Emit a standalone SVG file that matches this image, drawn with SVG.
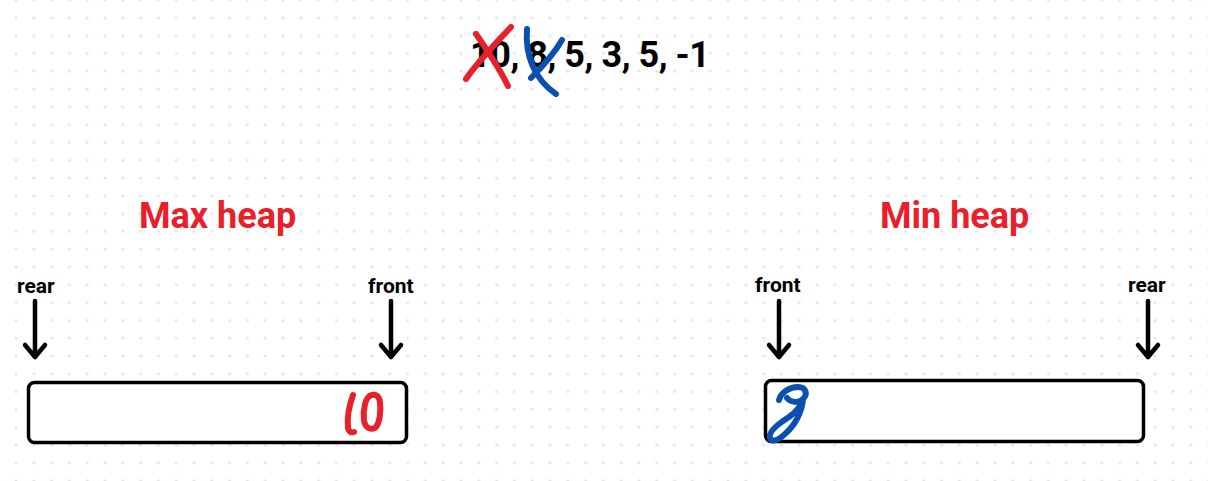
<svg xmlns="http://www.w3.org/2000/svg" width="1208" height="481" viewBox="0 0 1208 481">
<style>
.t{font-family:Roboto,"Liberation Sans",sans-serif;font-weight:bold}
.big{font-size:36px;fill:#000}
.title{font-size:36px;fill:#e8202a}
.lab{font-size:21px;fill:#000}
.box{fill:#fff;stroke:#000;stroke-width:3.5}
.arr{fill:none;stroke:#000;stroke-width:4.5;stroke-linecap:round;stroke-linejoin:round}
.red{fill:none;stroke:#e8202a;stroke-width:6;stroke-linecap:round;stroke-linejoin:round}
.blue{fill:none;stroke:#0b4fb0;stroke-width:6;stroke-linecap:round;stroke-linejoin:round}
</style>
<defs>
<pattern id="dots" patternUnits="userSpaceOnUse" x="7.1" y="-8.9" width="17.8" height="17.8">
<circle cx="8.9" cy="8.9" r="1.6" fill="#e1e4ea"/>
</pattern>
</defs>
<rect width="1208" height="481" fill="#fff"/>
<rect width="1208" height="481" fill="url(#dots)"/>
<g id="sequence">
<text class="t big" x="470" y="67" textLength="240">10, 8, 5, 3, 5, -1</text>
<path class="red" d="M476 34 C487 50 499 67 508 86"/>
<path class="red" d="M511 27 C497 42 479 60 466 79"/>
<path class="blue" d="M527 29 C525 55 534 79 556 94"/>
<path class="blue" d="M562 40 C554 54 543 66 531 78"/>
</g>
<g id="maxheap">
<text class="t title" x="139" y="228">Max heap</text>
<text class="t lab" x="17" y="293">rear</text>
<text class="t lab" x="368" y="293">front</text>
<rect class="box" x="28.5" y="382.5" width="378" height="60" rx="6"/>
<path class="red" d="M353 395 C349 406 347 418 348 428 C349 432 351 433 354 432"/>
<path class="red" d="M372 395 C365 396 363 410 364 420 C365 428 370 430 375 428 C380 424 381 410 380 402 C379 396 376 394 372 395 Z"/>
</g>
<g id="minheap">
<text class="t title" x="880" y="228">Min heap</text>
<text class="t lab" x="755" y="292">front</text>
<text class="t lab" x="1128" y="292">rear</text>
<rect class="box" x="765.5" y="380.5" width="378" height="61" rx="6"/>
<path class="blue" d="M779 400 C781 392 790 387 798 387 C806 387 808 394 803 399 C799 403 791 403 787 398 M803 399 C802 412 795 425 786 433 C779 440 772 443 770 438 C768 432 778 424 789 417 C796 412 801 406 803 399"/>
</g>
<g id="connectors">
<path class="arr" d="M35 301 V357 M25 345 L35 357 L45 345"/>
<path class="arr" d="M391 301 V357 M381 345 L391 357 L401 345"/>
<path class="arr" d="M779 301 V357 M769 345 L779 357 L789 345"/>
<path class="arr" d="M1148 301 V357 M1138 345 L1148 357 L1158 345"/>
</g>
</svg>
